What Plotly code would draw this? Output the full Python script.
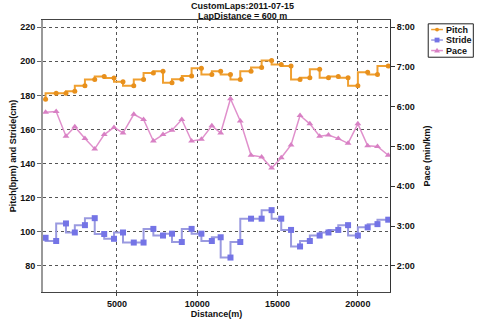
import plotly.graph_objects as go

distance = [560, 1220, 1830, 2380, 3010, 3620, 4210, 4820, 5380, 6050, 6660, 7270,
            7870, 8430, 9040, 9650, 10260, 10910, 11460, 12070, 12680, 13350, 14010, 14630,
            15230, 15840, 16400, 17010, 17620, 18170, 18780, 19390, 20000, 20610, 21220, 21890]

pitch = [177.8, 181.2, 181.2, 182.4, 185.6, 189.3, 191.1, 190.2, 188.0, 185.6, 189.3, 193.1,
         194.1, 187.4, 189.5, 191.3, 195.9, 192.2, 194.1, 192.2, 189.3, 194.1, 196.3, 200.5,
         198.1, 197.2, 189.3, 190.4, 195.3, 190.4, 191.1, 190.4, 185.6, 193.5, 192.2, 197.2]

stride = [96.5, 94.6, 104.9, 99.6, 103.9, 108.0, 98.7, 95.9, 99.6, 93.7, 93.7, 101.7,
          97.8, 98.9, 94.0, 101.7, 98.9, 94.6, 96.8, 84.9, 94.0, 107.7, 107.7, 112.7,
          107.7, 101.1, 91.4, 94.6, 97.8, 99.6, 101.1, 103.9, 97.8, 102.6, 104.5, 107.1]

# pace in minutes per km (decimal minutes)
pace = [5.86, 5.88, 5.26, 5.50, 5.20, 4.94, 5.30, 5.48, 5.34, 5.81, 5.68, 5.14,
        5.30, 5.41, 5.68, 5.14, 5.18, 5.52, 5.34, 6.20, 5.64, 4.78, 4.74, 4.46,
        4.72, 5.04, 5.78, 5.57, 5.26, 5.29, 5.20, 5.08, 5.57, 5.02, 5.00, 4.78]

left_ticks = [80, 100, 120, 140, 160, 180, 200, 220]
x_ticks = [5000, 10000, 15000, 20000]
x_labels = ["5000", "10000", "15000", "20000"]
pace_ticks = [2, 3, 4, 5, 6, 7, 8]
pace_labels = ["2:00", "3:00", "4:00", "5:00", "6:00", "7:00", "8:00"]

series_names = ["Pitch", "Stride", "Pace"]
line_colors = ["#F0A030", "#9A9AE0", "#E090CC"]
marker_colors = ["#E8901C", "#7474E6", "#D880C4"]

FONT = "Liberation Sans"
tf = dict(family=FONT, size=9, color="#111", weight="bold")

# plot area in pixels (for legend / title placement)
PL, PR, PT, PB = 36, 390, 20, 305


def px(xp):
    return (xp - PL) / (PR - PL)


def py(yp):
    return (PB - yp) / (PB - PT)


fig = go.Figure()
fig.add_trace(go.Scatter(
    x=distance, y=pitch, name=series_names[0], mode="lines+markers",
    line=dict(color=line_colors[0], width=2, shape="vh"),
    marker=dict(symbol="circle", size=5, color=marker_colors[0])))
fig.add_trace(go.Scatter(
    x=distance, y=stride, name=series_names[1], mode="lines+markers",
    line=dict(color=line_colors[1], width=2, shape="vh"),
    marker=dict(symbol="square", size=6, color=marker_colors[1])))
fig.add_trace(go.Scatter(
    x=distance, y=pace, name=series_names[2], mode="lines+markers", yaxis="y2",
    line=dict(color=line_colors[2], width=1.5),
    marker=dict(symbol="triangle-up", size=6, color=marker_colors[2])))

# manual compact legend
shapes = [dict(type="rect", xref="paper", yref="paper",
               x0=px(429), x1=px(475), y0=py(24), y1=py(59),
               line=dict(color="#222", width=1), fillcolor="white", layer="above")]
annotations = []
for i, name in enumerate(series_names):
    yc = 30 + i * 11
    shapes.append(dict(type="line", xref="paper", yref="paper",
                       x0=px(432), x1=px(444), y0=py(yc), y1=py(yc),
                       line=dict(color=line_colors[i], width=1.5), layer="above"))
    if i == 0:
        shapes.append(dict(type="circle", xref="paper", yref="paper",
                           x0=px(436), x1=px(440), y0=py(yc + 2), y1=py(yc - 2),
                           line=dict(width=0), fillcolor=marker_colors[i], layer="above"))
    elif i == 1:
        shapes.append(dict(type="rect", xref="paper", yref="paper",
                           x0=px(435.5), x1=px(440.5), y0=py(yc + 2.5), y1=py(yc - 2.5),
                           line=dict(width=0), fillcolor=marker_colors[i], layer="above"))
    else:
        path = "M {:.5f} {:.5f} L {:.5f} {:.5f} L {:.5f} {:.5f} Z".format(
            px(435), py(yc + 2), px(441), py(yc + 2), px(438), py(yc - 3))
        shapes.append(dict(type="path", xref="paper", yref="paper", path=path,
                           line=dict(width=0), fillcolor=marker_colors[i], layer="above"))
    annotations.append(dict(text=name, xref="paper", yref="paper",
                            x=px(445.5), y=py(yc), xanchor="left", yanchor="middle",
                            showarrow=False,
                            font=dict(family=FONT, size=9, weight="bold", color="#111")))

annotations += [
    dict(text="CustomLaps:2011-07-15", xref="paper", yref="paper",
         x=px(240), y=py(5.5), xanchor="center", yanchor="middle",
         showarrow=False, font=dict(family=FONT, size=9, weight="bold", color="#111")),
    dict(text="LapDistance = 600 m", xref="paper", yref="paper",
         x=px(240), y=py(15.5), xanchor="center", yanchor="middle",
         showarrow=False, font=dict(family=FONT, size=9, weight="bold", color="#111")),
]

fig.update_layout(
    width=480, height=329, autosize=False,
    margin=dict(l=PL, r=480 - PR, t=PT, b=329 - PB),
    paper_bgcolor="white", plot_bgcolor="white",
    font=dict(family=FONT, size=9, color="#111"),
    showlegend=False,
    xaxis=dict(range=[400, 22000], tickvals=x_ticks, ticktext=x_labels, tickfont=tf,
               showgrid=True, gridcolor="#555", griddash="dot", gridwidth=1,
               showline=True, linecolor="#444", linewidth=1, mirror=True,
               ticks="outside", ticklen=3, tickcolor="#444", zeroline=False,
               title=dict(text="Distance(m)", font=tf, standoff=2)),
    yaxis=dict(range=[64.7, 224.2], tickvals=left_ticks, tickfont=tf,
               showgrid=True, gridcolor="#555", griddash="dot", gridwidth=1,
               showline=True, linecolor="#999", linewidth=2,
               ticks="outside", ticklen=4, tickcolor="#666", zeroline=False,
               title=dict(text="Pitch(bpm) and Stride(cm)", font=tf, standoff=2)),
    yaxis2=dict(range=[1.344, 8.18], overlaying="y", side="right",
                tickvals=pace_ticks, ticktext=pace_labels, tickfont=tf,
                showgrid=False, showline=True, linecolor="#333", linewidth=1,
                ticks="outside", ticklen=4, tickcolor="#333", zeroline=False,
                title=dict(text="Pace (min/km)", font=tf, standoff=9)),
    shapes=shapes,
    annotations=annotations,
)

fig.write_html("out.html")
